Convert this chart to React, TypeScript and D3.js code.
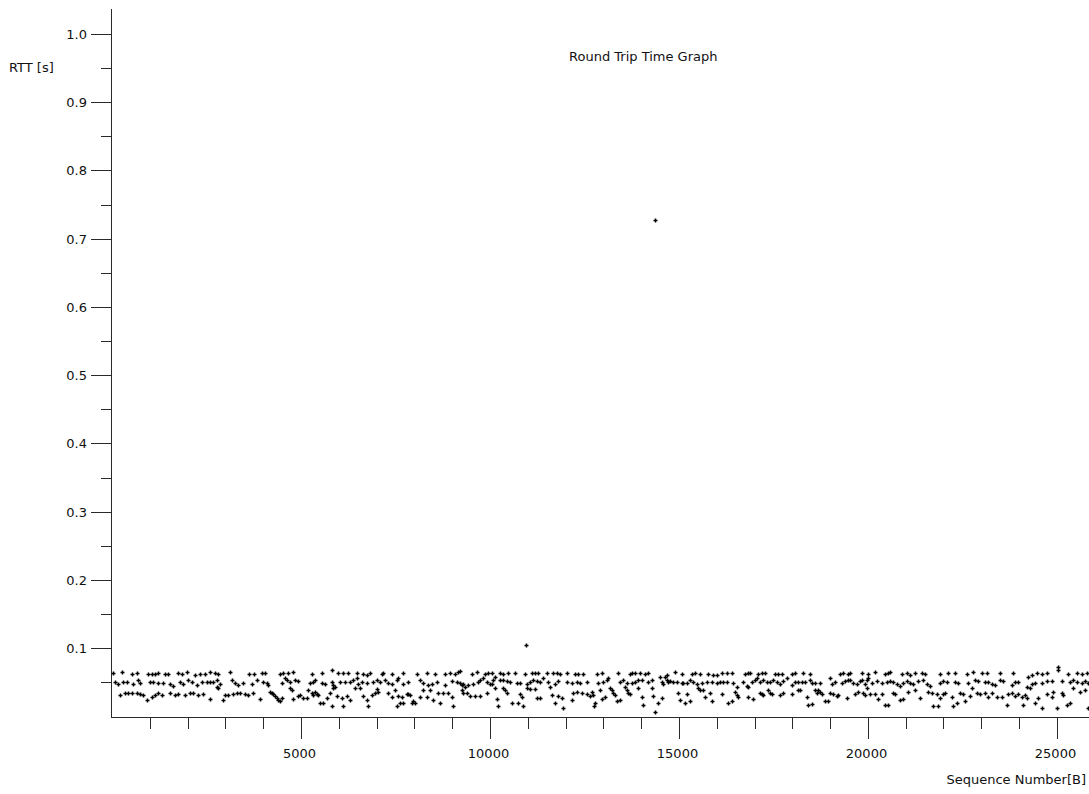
import { useEffect, useRef } from 'react';
import * as d3 from 'd3';

// [sequence number, rtt seconds] in slices along the x axis
const slice0to4k: [number, number][] = [
  [36,.064],[256,.065],[521,.062],[653,.064],[962,.062],[1050,.062],[1138,.062],[1226,.064],[1402,.062],[1491,.062],
  [1755,.064],[1843,.062],[1976,.065],[2196,.061],[2328,.062],[2461,.062],[2593,.065],[2725,.063],[2813,.062],[3122,.065],
  [3633,.062],[3757,.062],[3960,.064],[4048,.064],
  [80,.051],[168,.048],[300,.051],[388,.051],[565,.048],[697,.053],[741,.049],[1006,.051],[1094,.051],[1226,.049],
  [1358,.049],[1535,.047],[1623,.044],[1799,.051],[1887,.048],[2020,.053],[2108,.051],[2240,.046],[2372,.051],[2505,.051],
  [2593,.051],[2681,.051],[2769,.053],[2857,.047],[3166,.053],[3254,.049],[3342,.046],[3474,.049],[3695,.048],[3827,.053],
  [4004,.051],[4092,.049],
  [212,.031],[344,.035],[433,.035],[521,.035],[653,.035],[741,.033],[830,.031],[918,.024],[1050,.029],[1138,.031],
  [1226,.034],[1314,.031],[1535,.035],[1667,.031],[1755,.033],[1932,.031],[2064,.035],[2152,.034],[2284,.031],[2417,.033],
  [2593,.025],[2769,.043],[2813,.041],[2945,.024],[2990,.031],[3078,.031],[3210,.033],[3298,.035],[3386,.035],[3519,.033],
  [3607,.031],[3739,.035],[3915,.025],
];

const slice4kto8k: [number, number][] = [
  [4444,.062],[4532,.063],[4665,.064],[4797,.065],[5282,.062],[5546,.064],[5811,.068],[5987,.064],[6120,.064],[6252,.064],
  [6472,.064],[6649,.062],[6737,.061],[6825,.064],[7134,.062],[7178,.064],[7398,.062],[7707,.064],[8059,.062],[8324,.064],
  [4135,.046],[4488,.049],[4576,.056],[4620,.053],[4709,.051],[4841,.053],[4929,.052],[5238,.049],[5326,.051],[5370,.053],
  [5546,.049],[5635,.048],[5811,.051],[5855,.046],[5899,.043],[6031,.051],[6164,.051],[6296,.051],[6384,.053],[6472,.056],
  [6516,.048],[6604,.051],[6737,.049],[6913,.051],[7001,.053],[7089,.051],[7222,.053],[7310,.049],[7398,.048],[7530,.053],
  [7574,.056],[7707,.048],[7839,.051],[8148,.053],[8236,.049],[8368,.046],
  [4180,.036],[4224,.035],[4268,.033],[4312,.030],[4356,.027],[4400,.024],[4444,.022],[4488,.027],[4709,.041],[4753,.039],
  [4797,.025],[4929,.030],[4973,.031],[5061,.027],[5150,.027],[5194,.039],[5282,.035],[5326,.031],[5370,.036],[5414,.033],
  [5458,.031],[5502,.019],[5590,.019],[5679,.027],[5767,.035],[5811,.015],[5855,.041],[5943,.030],[6075,.027],[6120,.015],
  [6208,.030],[6296,.024],[6428,.041],[6560,.041],[6649,.030],[6737,.024],[6781,.015],[6869,.031],[6957,.035],[7001,.040],
  [7045,.036],[7310,.035],[7398,.028],[7486,.038],[7530,.015],[7574,.030],[7619,.019],[7663,.029],[7707,.019],[7795,.033],
  [7839,.033],[7883,.031],[7927,.019],[7971,.022],[8015,.019],[8148,.029],[8236,.038],[8324,.029],
];

const slice8kto12k: [number, number][] = [
  [8545,.062],[8809,.062],[8942,.064],[9074,.062],[9162,.065],[9206,.066],[9515,.062],[9647,.065],[9868,.062],[9956,.063],
  [10044,.064],[10264,.064],[10353,.062],[10485,.064],[10661,.064],[10926,.062],[11102,.064],[11190,.064],[11278,.064],[11499,.064],
  [11675,.064],[11763,.063],[11852,.062],[12028,.064],[12248,.062],[12337,.062],[12469,.062],
  [8457,.048],[8589,.051],[8809,.046],[8986,.052],[9118,.051],[9206,.049],[9250,.046],[9294,.048],[9338,.043],[9427,.046],
  [9559,.048],[9691,.051],[9735,.053],[9823,.057],[9912,.051],[10000,.047],[10044,.048],[10088,.053],[10132,.058],[10264,.053],
  [10353,.053],[10441,.052],[10529,.051],[10705,.049],[10793,.049],[10970,.048],[11058,.051],[11146,.054],[11234,.052],[11322,.051],
  [11411,.057],[11543,.051],[11719,.048],[11807,.052],[12028,.051],[12160,.049],[12292,.051],[12381,.049],[12557,.051],
  [8413,.039],[8501,.024],[8633,.035],[8677,.020],[8765,.035],[8898,.034],[8986,.028],[9030,.015],[9250,.039],[9294,.035],
  [9383,.034],[9471,.030],[9603,.030],[9735,.030],[9912,.034],[10132,.041],[10176,.025],[10220,.015],[10353,.041],[10397,.039],
  [10441,.035],[10573,.019],[10749,.019],[10793,.033],[10837,.028],[10882,.015],[10970,.041],[11058,.040],[11190,.040],[11234,.027],
  [11322,.027],[11587,.043],[11631,.031],[11719,.019],[11807,.030],[11896,.027],[11940,.013],[12160,.024],[12204,.035],[12292,.036],
  [12425,.035],[12557,.033],
];

const slice12kto17k: [number, number][] = [
  [12822,.062],[12954,.064],[13395,.064],[13704,.062],[13748,.064],[13836,.064],[13968,.064],[14101,.062],[14189,.064],[14497,.058],
  [14674,.061],[14894,.065],[15070,.062],[15335,.062],[15423,.064],[15555,.062],[15776,.062],[15908,.061],[15996,.061],[16129,.064],
  [16261,.064],[16393,.064],[16746,.062],[16834,.064],
  [12866,.049],[12998,.051],[13086,.054],[13131,.056],[13439,.051],[13527,.053],[13615,.049],[13748,.049],[13836,.051],[13924,.053],
  [14012,.054],[14189,.051],[14277,.053],[14541,.051],[14586,.048],[14630,.058],[14674,.054],[14718,.051],[14762,.052],[14850,.051],
  [14938,.051],[15070,.049],[15115,.049],[15203,.049],[15291,.054],[15379,.051],[15467,.048],[15600,.049],[15732,.051],[15864,.051],
  [15996,.049],[16085,.051],[16173,.051],[16261,.051],[16437,.049],[16525,.043],[16702,.051],[16790,.044],[16834,.043],
  [12646,.030],[12690,.036],[12734,.031],[12778,.019],[12751,.015],[12910,.038],[12954,.025],[13042,.029],[13175,.041],[13219,.039],
  [13263,.035],[13307,.031],[13351,.022],[13439,.024],[13571,.043],[13615,.038],[13660,.035],[13704,.033],[13924,.041],[14012,.029],
  [14056,.017],[14277,.041],[14321,.030],[14365,.007],[14453,.019],[14541,.027],[14982,.035],[15027,.024],[15159,.020],[15203,.033],
  [15291,.022],[15511,.041],[15555,.039],[15644,.038],[15688,.028],[15820,.035],[15864,.023],[16129,.033],[16305,.019],[16393,.022],
  [16481,.036],[16525,.031],[16569,.028],[16834,.029],
];

const slice17kto21k: [number, number][] = [
  [16879,.064],[17099,.062],[17187,.063],[17275,.064],[17540,.062],[17628,.062],[17716,.062],[17981,.062],[18069,.064],[18289,.064],
  [18466,.062],[19259,.062],[19348,.064],[19480,.062],[19524,.064],[19833,.064],[20009,.062],[20185,.065],[20450,.062],[20538,.064],
  [20582,.065],[20891,.062],[21023,.064],
  [16923,.051],[17011,.053],[17055,.056],[17143,.051],[17231,.054],[17319,.051],[17408,.051],[17496,.053],[17584,.051],[17672,.048],
  [17760,.052],[17849,.056],[17981,.046],[18069,.051],[18157,.051],[18245,.051],[18334,.051],[18466,.054],[18510,.049],[18598,.049],
  [18730,.049],[18995,.056],[19039,.048],[19127,.051],[19303,.049],[19392,.052],[19480,.053],[19524,.054],[19612,.049],[19700,.048],
  [19788,.052],[19833,.054],[19921,.048],[19965,.053],[20009,.056],[20097,.049],[20229,.052],[20362,.049],[20494,.051],[20582,.052],
  [20670,.051],[20758,.048],[20847,.044],[20935,.049],[21023,.052],
  [16967,.025],[17143,.035],[17187,.033],[17231,.031],[17364,.039],[17408,.035],[17452,.033],[17672,.031],[17760,.034],[17981,.033],
  [18157,.038],[18201,.039],[18378,.029],[18422,.017],[18510,.018],[18598,.039],[18642,.035],[18686,.038],[18730,.036],[18775,.033],
  [18863,.022],[18951,.022],[18995,.035],[19083,.033],[19171,.030],[19215,.031],[19436,.027],[19656,.033],[19744,.036],[19877,.035],
  [19921,.031],[19965,.041],[20053,.033],[20185,.033],[20273,.025],[20362,.033],[20450,.017],[20538,.017],[20670,.035],[20714,.033],
  [20847,.024],[20935,.025],[21067,.036],
];

const slice21kto26k: [number, number][] = [
  [21112,.061],[21244,.064],[21420,.064],[21508,.062],[21905,.062],[22126,.064],[22302,.064],[22611,.062],[22787,.065],[23007,.064],
  [23140,.064],[23492,.064],[23845,.064],[24242,.058],[24330,.061],[24462,.064],[24595,.062],[24727,.064],[25036,.072],[25040,.068],
  [25300,.062],[25521,.064],[25653,.062],[25785,.064],
  [21112,.049],[21200,.048],[21332,.052],[21464,.053],[21552,.048],[21641,.044],[21905,.049],[21993,.052],[22082,.051],[22302,.051],
  [22390,.049],[22655,.049],[22831,.054],[22919,.052],[23096,.051],[23184,.051],[23272,.048],[23360,.046],[23492,.053],[23581,.052],
  [23801,.046],[23889,.051],[23977,.051],[24198,.043],[24330,.048],[24418,.049],[24595,.049],[24727,.052],[24859,.052],[25124,.052],
  [25344,.051],[25432,.053],[25521,.051],[25653,.049],[25741,.052],[25829,.049],
  [21244,.038],[21376,.027],[21596,.036],[21685,.035],[21729,.015],[21817,.033],[21861,.015],[21905,.027],[21993,.033],[22037,.035],
  [22214,.028],[22258,.015],[22346,.019],[22434,.035],[22522,.033],[22566,.022],[22699,.030],[22743,.041],[22875,.035],[22963,.033],
  [23096,.035],[23184,.029],[23272,.035],[23404,.029],[23536,.029],[23669,.017],[23713,.033],[23801,.035],[23889,.030],[23977,.033],
  [24066,.029],[24110,.017],[24154,.031],[24198,.027],[24286,.041],[24418,.019],[24506,.027],[24595,.013],[24727,.033],[24859,.028],
  [24903,.036],[24991,.013],[25124,.035],[25168,.031],[25256,.017],[25344,.019],[25432,.041],[25609,.036],[25741,.038],[25829,.013],
];

const outliers: [number, number][] = [[10952, .104], [14365, .727]];

const xMajorTicks = [5000, 10000, 15000, 20000, 25000];
const yMajorTicks = [0.1, 0.2, 0.3, 0.4, 0.5, 0.6, 0.7, 0.8, 0.9, 1.0];

const W = 1089;
const H = 794;
const FONT = '"DejaVu Sans", Verdana, sans-serif';
const FS = 13;

export default function App() {
  const svgRef = useRef<SVGSVGElement>(null);

  useEffect(() => {
    const svg = d3.select(svgRef.current);
    svg.selectAll('*').remove();

    const axisX = 111.5;
    const axisY = 717.5;

    const x = d3.scaleLinear().domain([0, 25850]).range([112, 1089]);
    const y = d3.scaleLinear().domain([0, 1]).range([716.4, 34]);

    const g = svg.append('g').attr('stroke', '#2a2a2a').attr('shape-rendering', 'crispEdges');

    // axis lines
    g.append('line').attr('x1', axisX).attr('x2', axisX).attr('y1', 9).attr('y2', axisY);
    g.append('line').attr('x1', axisX).attr('x2', W).attr('y1', axisY).attr('y2', axisY);

    const label = (sel: any) =>
      sel.attr('font-family', FONT).attr('font-size', FS).attr('fill', '#111');

    // y ticks: majors every 0.1, minors between
    const yMinor = d3.range(1, 11).map(i => (i - 0.5) / 10);
    yMinor.forEach(v => {
      const yy = Math.round(y(v)) + 0.5;
      g.append('line').attr('x1', 101).attr('x2', axisX).attr('y1', yy).attr('y2', yy);
    });
    yMajorTicks.forEach(v => {
      const yy = Math.round(y(v)) + 0.5;
      g.append('line').attr('x1', 91).attr('x2', axisX).attr('y1', yy).attr('y2', yy);
      label(svg.append('text'))
        .attr('x', 87).attr('y', yy + 4.5)
        .attr('text-anchor', 'end')
        .text(v.toFixed(1));
    });

    // x ticks: majors every 5000, minors every 1000
    d3.range(1000, 26000, 1000).filter(v => v % 5000 !== 0).forEach(v => {
      const xx = Math.round(x(v)) + 0.5;
      g.append('line').attr('x1', xx).attr('x2', xx).attr('y1', axisY).attr('y2', 729);
    });
    xMajorTicks.forEach(v => {
      const xx = Math.round(x(v)) + 0.5;
      g.append('line').attr('x1', xx).attr('x2', xx).attr('y1', axisY).attr('y2', 739);
      label(svg.append('text'))
        .attr('x', xx - 2).attr('y', 758)
        .attr('text-anchor', 'middle')
        .text(String(v));
    });

    // labels
    label(svg.append('text')).attr('x', 9).attr('y', 72).text('RTT [s]');
    label(svg.append('text')).attr('x', 569).attr('y', 61).text('Round Trip Time Graph');
    label(svg.append('text')).attr('x', 1086).attr('y', 784).attr('text-anchor', 'end').text('Sequence Number[B]');

    // points as small crosses
    const points = [
      ...slice0to4k, ...slice4kto8k, ...slice8kto12k,
      ...slice12kto17k, ...slice17kto21k, ...slice21kto26k, ...outliers,
    ];
    svg.append('g')
      .selectAll('path')
      .data(points)
      .enter()
      .append('path')
      .attr('d', d => {
        const px = Math.round(x(d[0])) + 0.5;
        const py = Math.round(y(d[1])) + 0.5;
        return `M${px - 2},${py}H${px + 2}M${px},${py - 2}V${py + 2}`;
      })
      .attr('stroke', '#000')
      .attr('stroke-width', 1.5)
      .attr('fill', 'none');
  }, []);

  return (
    <svg
      ref={svgRef}
      width={W}
      height={H}
      style={{ position: 'absolute', left: 0, top: 0, background: '#fff' }}
    />
  );
}
